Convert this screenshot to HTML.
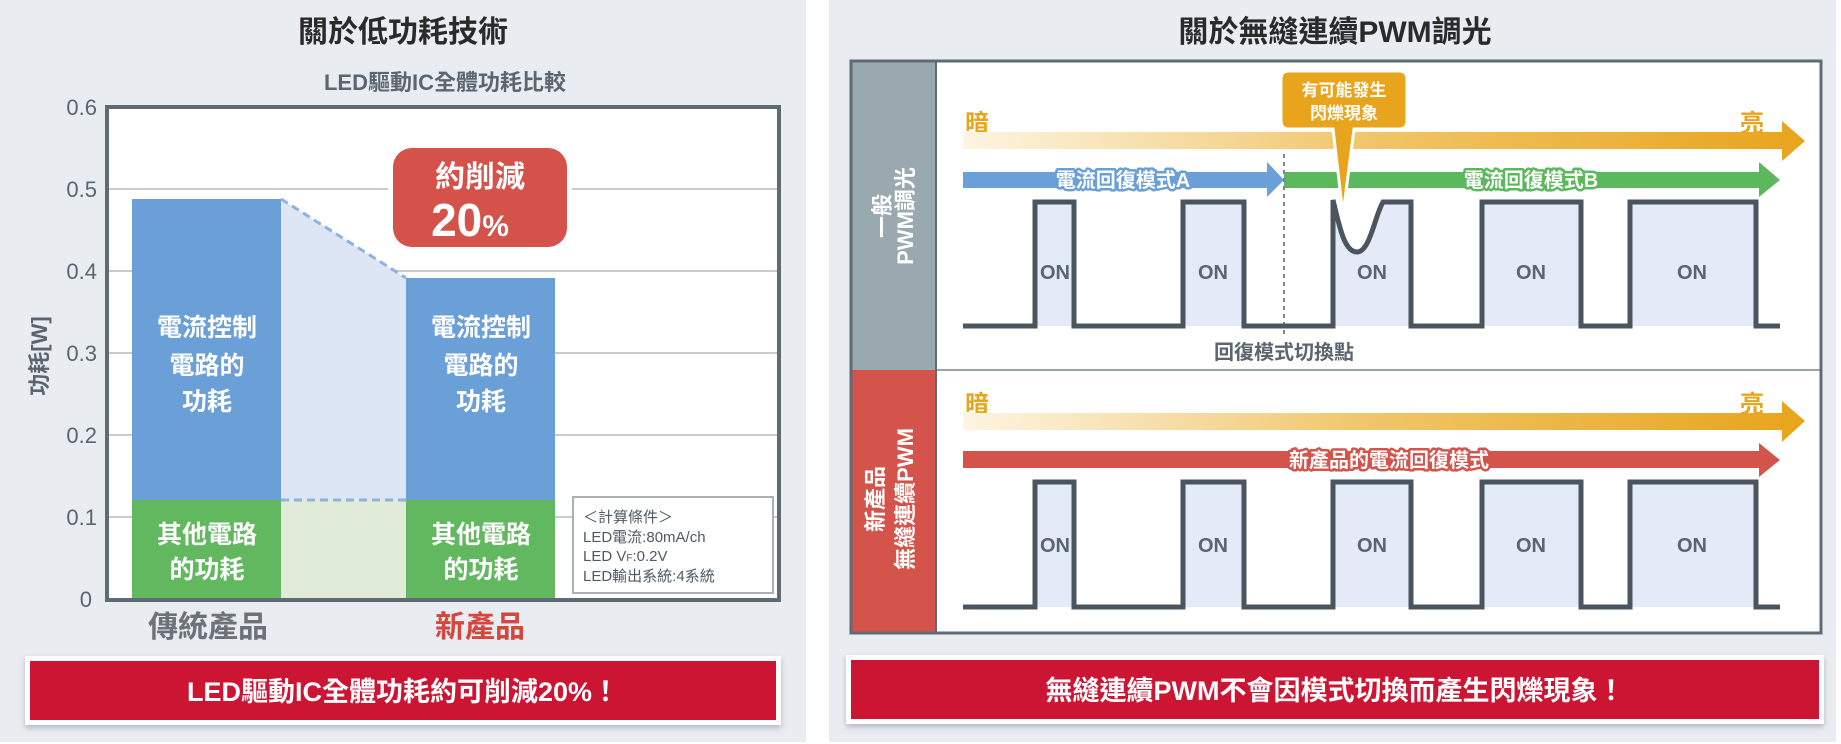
<!DOCTYPE html>
<html><head><meta charset="utf-8"><style>
html,body{margin:0;padding:0;background:#fff;}
svg{display:block;font-family:"Liberation Sans","Noto Sans CJK TC",sans-serif;}
</style></head><body>
<svg width="1841" height="744" viewBox="0 0 1841 744" xmlns="http://www.w3.org/2000/svg">
<defs>
<linearGradient id="og" x1="0" x2="1" y1="0" y2="0">
<stop offset="0" stop-color="#fdf5e2"/><stop offset="0.5" stop-color="#f0c466"/><stop offset="1" stop-color="#e8a41c"/>
</linearGradient>
<filter id="sh" x="-5%" y="-20%" width="110%" height="150%"><feDropShadow dx="0" dy="3" stdDeviation="3" flood-color="#7a8590" flood-opacity="0.5"/></filter>
</defs>
<!-- panels -->
<rect x="0" y="0" width="806" height="742" fill="#e9edf1"/>
<rect x="829" y="0" width="1007" height="742" fill="#e9edf1"/>

<!-- LEFT -->
<text x="403" y="42" text-anchor="middle" font-size="30" font-weight="bold" fill="#2a2a2a">關於低功耗技術</text>
<text x="445" y="90" text-anchor="middle" font-size="22" font-weight="bold" fill="#5b6670">LED驅動IC全體功耗比較</text>
<rect x="107" y="107" width="672" height="493" fill="#fff"/>
<g stroke="#c9cbcd" stroke-width="2">
<line x1="109" y1="189" x2="777" y2="189"/><line x1="109" y1="271" x2="777" y2="271"/>
<line x1="109" y1="353" x2="777" y2="353"/><line x1="109" y1="435" x2="777" y2="435"/>
<line x1="109" y1="517" x2="777" y2="517"/>
</g>
<g font-size="22" fill="#5a6570" text-anchor="end">
<text x="97" y="115">0.6</text><text x="97" y="197">0.5</text><text x="97" y="279">0.4</text>
<text x="97" y="361">0.3</text><text x="97" y="443">0.2</text><text x="97" y="525">0.1</text><text x="92" y="607">0</text>
</g>
<text transform="translate(47,356) rotate(-90)" text-anchor="middle" font-size="22" font-weight="bold" fill="#5a6570">功耗[W]</text>
<!-- between bars -->
<polygon points="281,199 406,278 406,500 281,500" fill="#dce6f5"/>
<rect x="281" y="500" width="125" height="99" fill="#e0ecd8"/>
<line x1="281" y1="199" x2="406" y2="278" stroke="#8fb3e0" stroke-width="3" stroke-dasharray="8,5"/>
<line x1="281" y1="500" x2="406" y2="500" stroke="#8fb3e0" stroke-width="3" stroke-dasharray="8,5"/>
<!-- bars -->
<rect x="132" y="199" width="149" height="301" fill="#6a9fd8"/>
<rect x="132" y="500" width="149" height="99" fill="#62b85f"/>
<rect x="406" y="278" width="149" height="222" fill="#6a9fd8"/>
<rect x="406" y="500" width="149" height="99" fill="#62b85f"/>
<g font-size="25" font-weight="bold" fill="#fff" text-anchor="middle">
<text x="207" y="336">電流控制</text><text x="207" y="374">電路的</text><text x="207" y="410">功耗</text>
<text x="207" y="543">其他電路</text><text x="207" y="578">的功耗</text>
<text x="481" y="336">電流控制</text><text x="481" y="374">電路的</text><text x="481" y="410">功耗</text>
<text x="481" y="543">其他電路</text><text x="481" y="578">的功耗</text>
</g>
<!-- badge -->
<rect x="388" y="143" width="184" height="109" rx="22" fill="#fff"/>
<rect x="393" y="148" width="174" height="99" rx="19" fill="#d4524a"/>
<text x="480" y="187" text-anchor="middle" font-size="30" font-weight="bold" fill="#fff">約削減</text>
<text x="470" y="236" text-anchor="middle" font-size="46" font-weight="bold" fill="#fff">20<tspan font-size="30">%</tspan></text>
<!-- conditions -->
<rect x="573" y="497" width="200" height="96" fill="#fff" stroke="#a9b0b6" stroke-width="2"/>
<g font-size="15" fill="#4e5a64">
<text x="583" y="522">＜計算條件＞</text><text x="583" y="542">LED電流:80mA/ch</text>
<text x="583" y="561">LED V<tspan font-size="10">F</tspan>:0.2V</text><text x="583" y="581">LED輸出系統:4系統</text>
</g>
<rect x="107" y="107" width="672" height="493" fill="none" stroke="#5e6b75" stroke-width="4"/>
<text x="208" y="637" text-anchor="middle" font-size="30" font-weight="bold" fill="#6c7278">傳統產品</text>
<text x="480" y="637" text-anchor="middle" font-size="30" font-weight="bold" fill="#d4473f">新產品</text>
<rect x="25" y="656" width="756" height="69" fill="#fff" filter="url(#sh)"/>
<rect x="30" y="661" width="746" height="59" fill="#cc1433"/>
<text x="403" y="701" text-anchor="middle" font-size="27" font-weight="bold" fill="#fff">LED驅動IC全體功耗約可削減20%！</text>

<!-- RIGHT -->
<text x="1335" y="42" text-anchor="middle" font-size="30" font-weight="bold" fill="#2a2a2a">關於無縫連續PWM調光</text>
<rect x="851" y="61" width="970" height="572" fill="#fff"/>
<rect x="851" y="61" width="85" height="309" fill="#9aa9b0"/>
<rect x="851" y="370" width="85" height="263" fill="#d4544c"/>
<line x1="936" y1="370" x2="1821" y2="370" stroke="#9aa3aa" stroke-width="2"/>
<line x1="936" y1="61" x2="936" y2="633" stroke="#5e6b75" stroke-width="2"/>
<g font-size="22" font-weight="bold" fill="#fff" text-anchor="middle">
<text transform="translate(890,216) rotate(-90)">一般</text>
<text transform="translate(913,216) rotate(-90)">PWM調光</text>
<text transform="translate(883,499) rotate(-90)">新產品</text>
<text transform="translate(913,499) rotate(-90)">無縫連續PWM</text>
</g>
<!-- top section arrows -->
<g font-size="24" font-weight="bold" fill="#e8a41c" text-anchor="middle">
<text x="977" y="131">暗</text><text x="1752" y="131">亮</text>
<text x="977" y="412">暗</text><text x="1752" y="412">亮</text>
</g>
<polygon points="963,132 1782,132 1782,121 1805,141 1782,161 1782,149 963,149" fill="url(#og)"/>
<polygon points="963,413 1782,413 1782,401 1805,421 1782,442 1782,430 963,430" fill="url(#og)"/>
<polygon points="963,172 1267,172 1267,162 1284,180 1267,197 1267,188 963,188" fill="#6a9fd8"/>
<polygon points="1284,172 1759,172 1759,162 1780,180 1759,197 1759,188 1284,188" fill="#5cb85c"/>
<polygon points="963,451 1759,451 1759,443 1780,460 1759,477 1759,468 963,468" fill="#d4544c"/>
<g font-size="20" font-weight="bold" fill="#fff" text-anchor="middle" stroke-width="5" paint-order="stroke" stroke-linejoin="round">
<text x="1123" y="187" stroke="#6a9fd8">電流回復模式A</text>
<text x="1531" y="187" stroke="#5cb85c">電流回復模式B</text>
<text x="1389" y="467" stroke="#d4544c">新產品的電流回復模式</text>
</g>
<line x1="1284" y1="154" x2="1284" y2="335" stroke="#7d858c" stroke-width="2" stroke-dasharray="4,4"/>
<!-- top fills -->
<g fill="#e2ebf7">
<rect x="1035" y="202" width="39" height="124"/><rect x="1183" y="202" width="61" height="124"/>
<path d="M1333,200 C1340,230 1345,252 1357,252 C1370,252 1375,215 1383,202 L1411,202 L1411,326 L1333,326 Z"/>
<rect x="1482" y="202" width="99" height="124"/><rect x="1630" y="202" width="126" height="124"/>
<rect x="1035" y="482" width="39" height="125"/><rect x="1183" y="482" width="61" height="125"/>
<rect x="1333" y="482" width="78" height="125"/>
<rect x="1482" y="482" width="99" height="125"/><rect x="1630" y="482" width="126" height="125"/>
</g>
<g font-size="20" font-weight="bold" fill="#5a6570" text-anchor="middle">
<text x="1055" y="279">ON</text><text x="1213" y="279">ON</text><text x="1372" y="279">ON</text><text x="1531" y="279">ON</text><text x="1692" y="279">ON</text>
<text x="1055" y="552">ON</text><text x="1213" y="552">ON</text><text x="1372" y="552">ON</text><text x="1531" y="552">ON</text><text x="1692" y="552">ON</text>
</g>
<g fill="none" stroke="#4a555e" stroke-width="5" stroke-linejoin="miter">
<path d="M963,326 H1035 V202 H1074 V326 H1183 V202 H1244 V326 H1333 V200 C1340,230 1345,252 1357,252 C1370,252 1375,215 1383,202 H1411 V326 H1482 V202 H1581 V326 H1630 V202 H1756 V326 H1780"/>
<path d="M963,607 H1035 V482 H1074 V607 H1183 V482 H1244 V607 H1333 V482 H1411 V607 H1482 V482 H1581 V607 H1630 V482 H1756 V607 H1780"/>
</g>
<text x="1284" y="359" text-anchor="middle" font-size="20" font-weight="bold" fill="#5a6570">回復模式切換點</text>
<!-- callout -->
<path d="M1289,71 H1399 Q1407,71 1407,79 V121 Q1407,129 1399,129 H1354 L1343,215 L1333,129 H1289 Q1281,129 1281,121 V79 Q1281,71 1289,71 Z" fill="#e8a41c" stroke="#fff" stroke-width="3"/>
<g font-size="17" font-weight="bold" fill="#fff" text-anchor="middle">
<text x="1344" y="96">有可能發生</text><text x="1344" y="119">閃爍現象</text>
</g>
<rect x="851" y="61" width="970" height="572" fill="none" stroke="#5e6b75" stroke-width="3"/>
<rect x="846" y="655" width="978" height="69" fill="#fff" filter="url(#sh)"/>
<rect x="851" y="660" width="968" height="59" fill="#cc1433"/>
<text x="1335" y="700" text-anchor="middle" font-size="27" font-weight="bold" fill="#fff">無縫連續PWM不會因模式切換而產生閃爍現象！</text>
</svg>
</body></html>
